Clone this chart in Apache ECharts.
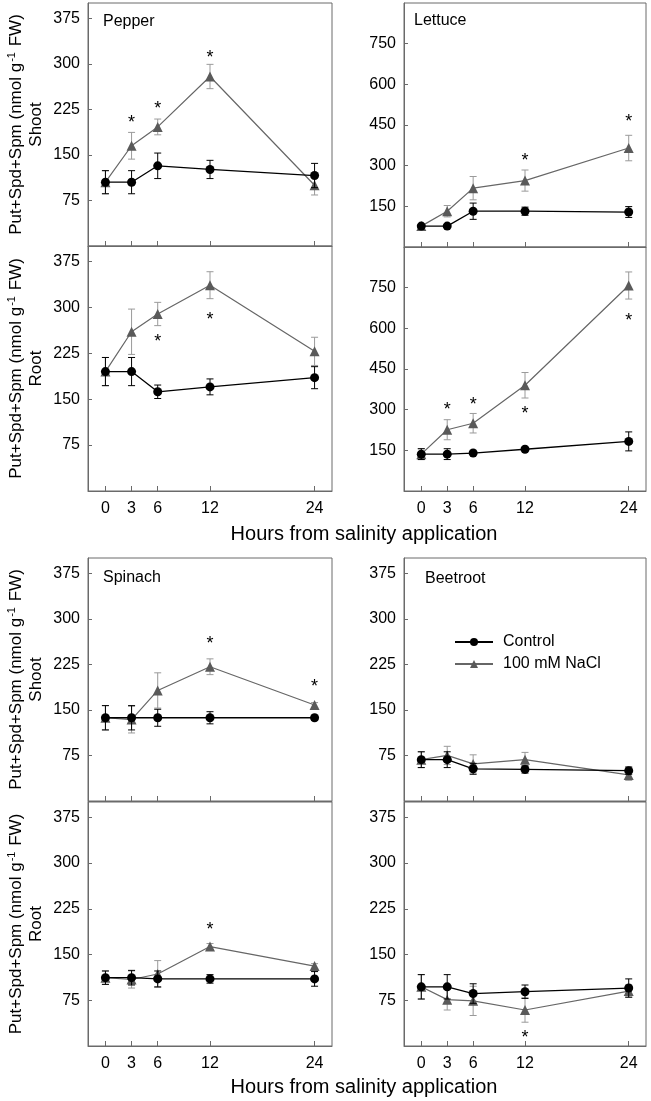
<!DOCTYPE html>
<html><head><meta charset="utf-8">
<script src="https://cdn.jsdelivr.net/npm/echarts@6/dist/echarts.min.js"></script>
<style>html,body{margin:0;padding:0;background:#fff}#c{width:651px;height:1101px}</style>
</head><body><div id="c"></div>
<script>
const hours = [0, 3, 6, 12, 24];
const xTickValues = [0, 3, 6, 12, 24];
const yTicks400 = [75, 150, 225, 300, 375];
const yTicks900 = [150, 300, 450, 600, 750];
const panelNames = ['Pepper', 'Lettuce', 'Spinach', 'Beetroot'];
const seriesNames = ['Control', '100 mM NaCl'];
const xTitle = 'Hours from salinity application';

// Pepper
const pepperShootControl = [105, 105, 132, 126, 116];
const pepperShootControlErr = [19, 19, 21, 15, 20];
const pepperShootNaCl = [105, 165, 196, 279, 100];
const pepperShootNaClErr = [19, 22, 13, 20, 16];
const pepperShootStars = [[3, 209], [6, 232], [12, 316]];
const pepperRootControl = [195, 195, 162, 170, 185];
const pepperRootControlErr = [23, 23, 11, 13, 18];
const pepperRootNaCl = [195, 260, 289, 336, 228];
const pepperRootNaClErr = [23, 37, 19, 22, 23];
const pepperRootStars = [[6, 250], [12, 285]];
// Lettuce
const lettuceShootControl = [77, 77, 132, 132, 129];
const lettuceShootControlErr = [5, 5, 30, 15, 20];
const lettuceShootNaCl = [77, 132, 217, 245, 365];
const lettuceShootNaClErr = [5, 21, 43, 39, 47];
const lettuceShootStars = [[12, 332], [24, 477]];
const lettuceRootControl = [136, 136, 140, 154, 183];
const lettuceRootControlErr = [20, 20, 5, 5, 35];
const lettuceRootNaCl = [136, 226, 250, 390, 758];
const lettuceRootNaClErr = [20, 37, 36, 47, 50];
const lettuceRootStars = [[3, 313], [6, 333], [12, 300], [24, 641]];
// Spinach
const spinachShootControl = [137, 137, 137, 137, 137];
const spinachShootControlErr = [20, 20, 14, 10, 4];
const spinachShootNaCl = [137, 134, 182, 221, 158];
const spinachShootNaClErr = [20, 22, 29, 13, 4];
const spinachShootStars = [[12, 265], [24, 194]];
const spinachRootControl = [112, 112, 110, 110, 110];
const spinachRootControlErr = [11, 12, 13, 7, 12];
const spinachRootNaCl = [112, 109, 118, 163, 131];
const spinachRootNaClErr = [11, 14, 22, 5, 4];
const spinachRootStars = [[12, 196]];
// Beetroot
const beetShootControl = [68, 68, 53, 52, 50];
const beetShootControlErr = [13, 13, 9, 6, 6];
const beetShootNaCl = [68, 75, 61, 68, 43];
const beetShootNaClErr = [13, 15, 15, 12, 9];
const beetShootStars = [];
const beetRootControl = [97, 97, 86, 89, 95];
const beetRootControlErr = [20, 20, 16, 11, 15];
const beetRootNaCl = [97, 76, 74, 59, 90];
const beetRootNaClErr = [20, 17, 24, 20, 10];
const beetRootStars = [[12, 20]];

const FONT = 'Liberation Sans, Arial, Helvetica, sans-serif';
const FRAME = '#6a6a6a';

const panels = [
  {pos:{left:88, top:3, width:244, height:243}, max:400, ticks:yTicks400, yName:'Shoot', xLabels:false,
   c:pepperShootControl, ce:pepperShootControlErr, n:pepperShootNaCl, ne:pepperShootNaClErr, s:pepperShootStars},
  {pos:{left:88, top:246, width:244, height:245}, max:400, ticks:yTicks400, yName:'Root', xLabels:true,
   c:pepperRootControl, ce:pepperRootControlErr, n:pepperRootNaCl, ne:pepperRootNaClErr, s:pepperRootStars},
  {pos:{left:404, top:3, width:242, height:244}, max:900, ticks:yTicks900, yName:null, xLabels:false,
   c:lettuceShootControl, ce:lettuceShootControlErr, n:lettuceShootNaCl, ne:lettuceShootNaClErr, s:lettuceShootStars},
  {pos:{left:404, top:247, width:242, height:244}, max:900, ticks:yTicks900, yName:null, xLabels:true,
   c:lettuceRootControl, ce:lettuceRootControlErr, n:lettuceRootNaCl, ne:lettuceRootNaClErr, s:lettuceRootStars},
  {pos:{left:88, top:558, width:244, height:243}, max:400, ticks:yTicks400, yName:'Shoot', xLabels:false,
   c:spinachShootControl, ce:spinachShootControlErr, n:spinachShootNaCl, ne:spinachShootNaClErr, s:spinachShootStars},
  {pos:{left:88, top:802, width:244, height:244}, max:400, ticks:yTicks400, yName:'Root', xLabels:true,
   c:spinachRootControl, ce:spinachRootControlErr, n:spinachRootNaCl, ne:spinachRootNaClErr, s:spinachRootStars},
  {pos:{left:404, top:558, width:242, height:243}, max:400, ticks:yTicks400, yName:null, xLabels:false,
   c:beetShootControl, ce:beetShootControlErr, n:beetShootNaCl, ne:beetShootNaClErr, s:beetShootStars},
  {pos:{left:404, top:802, width:242, height:244}, max:400, ticks:yTicks400, yName:null, xLabels:true,
   c:beetRootControl, ce:beetRootControlErr, n:beetRootNaCl, ne:beetRootNaClErr, s:beetRootStars}
];

const grid = [], xAxis = [], yAxis = [], series = [];

function errSeries(gi, vals, errs, color, z) {
  return {
    type: 'custom', xAxisIndex: gi, yAxisIndex: gi, silent: true, z: z,
    data: hours.map((h, i) => [h, vals[i], errs[i]]),
    renderItem: (params, api) => {
      const x = api.value(0), y = api.value(1), e = api.value(2);
      const t = api.coord([x, y + e]), b = api.coord([x, y - e]);
      const hw = 3.5;
      const st = {stroke: color, lineWidth: 1};
      return {type: 'group', children: [
        {type: 'line', shape: {x1: t[0], y1: t[1], x2: b[0], y2: b[1]}, style: st},
        {type: 'line', shape: {x1: t[0] - hw, y1: t[1], x2: t[0] + hw, y2: t[1]}, style: st},
        {type: 'line', shape: {x1: b[0] - hw, y1: b[1], x2: b[0] + hw, y2: b[1]}, style: st}
      ]};
    }
  };
}

panels.forEach((p, gi) => {
  grid.push({left: p.pos.left, top: p.pos.top, width: p.pos.width, height: p.pos.height,
    show: true, borderColor: FRAME, borderWidth: 1, backgroundColor: 'transparent'});
  xAxis.push({
    type: 'value', gridIndex: gi, min: -2, max: 26,
    axisLine: {show: true, onZero: false, lineStyle: {color: FRAME, width: 1}},
    axisTick: {show: true, inside: true, length: 5, customValues: xTickValues, lineStyle: {color: FRAME}},
    axisLabel: {show: p.xLabels, customValues: xTickValues, margin: 10, fontSize: 16, color: '#000', fontFamily: FONT},
    splitLine: {show: false}
  });
  const ya = {
    type: 'value', gridIndex: gi, min: 0, max: p.max,
    axisLine: {show: true, onZero: false, lineStyle: {color: FRAME, width: 1}},
    axisTick: {show: true, inside: true, length: 4, customValues: p.ticks, lineStyle: {color: FRAME}},
    axisLabel: {customValues: p.ticks, margin: 8, fontSize: 16, color: '#000', fontFamily: FONT},
    splitLine: {show: false}
  };
  if (p.yName) {
    ya.name = '{a|Put+Spd+Spm (nmol g}{s|-1}{a| FW)}\n{a|' + p.yName + '}';
    ya.nameLocation = 'middle';
    ya.nameRotate = 90;
    ya.nameGap = 42;
    ya.nameTextStyle = {
      align: 'center', fontFamily: FONT, color: '#000',
      rich: {
        a: {fontSize: 17, fontFamily: FONT, color: '#000', lineHeight: 20},
        s: {fontSize: 11, fontFamily: FONT, color: '#000', verticalAlign: 'top', lineHeight: 20, padding: [0, 1, 8, 1]}
      }
    };
  }
  yAxis.push(ya);

  series.push(errSeries(gi, p.n, p.ne, '#9a9a9a', 2));
  series.push({
    type: 'line', name: seriesNames[1], xAxisIndex: gi, yAxisIndex: gi, z: 3,
    data: hours.map((h, i) => [h, p.n[i]]),
    symbol: 'triangle', symbolSize: 10, showAllSymbol: true,
    lineStyle: {color: '#666', width: 1.2}, itemStyle: {color: '#5a5a5a'}
  });
  series.push(errSeries(gi, p.c, p.ce, '#000', 4));
  series.push({
    type: 'line', name: seriesNames[0], xAxisIndex: gi, yAxisIndex: gi, z: 5,
    data: hours.map((h, i) => [h, p.c[i]]),
    symbol: 'circle', symbolSize: 9,
    lineStyle: {color: '#000', width: 1.3}, itemStyle: {color: '#000'}
  });
  series.push({
    type: 'custom', xAxisIndex: gi, yAxisIndex: gi, silent: true, z: 6,
    data: p.s,
    renderItem: (params, api) => {
      const c = api.coord([api.value(0), api.value(1)]);
      return {type: 'text', x: c[0], y: c[1] + 4,
        style: {text: '*', fontSize: 18, fontFamily: FONT, align: 'center', verticalAlign: 'middle', fill: '#000'}};
    }
  });
});

const titleStyle = {fontSize: 16, fontWeight: 'normal', color: '#000', fontFamily: FONT};
const option = {
  animation: false,
  backgroundColor: '#fff',
  title: [
    {text: panelNames[0], left: 103, top: 14, padding: 0, textStyle: titleStyle},
    {text: panelNames[1], left: 414, top: 13, padding: 0, textStyle: titleStyle},
    {text: panelNames[2], left: 103, top: 570, padding: 0, textStyle: titleStyle},
    {text: panelNames[3], left: 425, top: 571, padding: 0, textStyle: titleStyle}
  ],
  legend: {
    data: seriesNames, orient: 'vertical', left: 454, top: 634,
    itemWidth: 38, itemHeight: 10, itemGap: 6, padding: 0,
    textStyle: {fontSize: 16, color: '#000', fontFamily: FONT, padding: [0, 0, 0, 5]}
  },
  graphic: [
    {type: 'text', x: 364, y: 534, style: {text: xTitle, fontSize: 20, fontFamily: FONT, fill: '#000', align: 'center', verticalAlign: 'middle'}},
    {type: 'text', x: 364, y: 1087, style: {text: xTitle, fontSize: 20, fontFamily: FONT, fill: '#000', align: 'center', verticalAlign: 'middle'}}
  ],
  grid, xAxis, yAxis, series
};
const chart = echarts.init(document.getElementById('c'), null, {renderer: 'canvas'});
chart.setOption(option);
</script></body></html>
